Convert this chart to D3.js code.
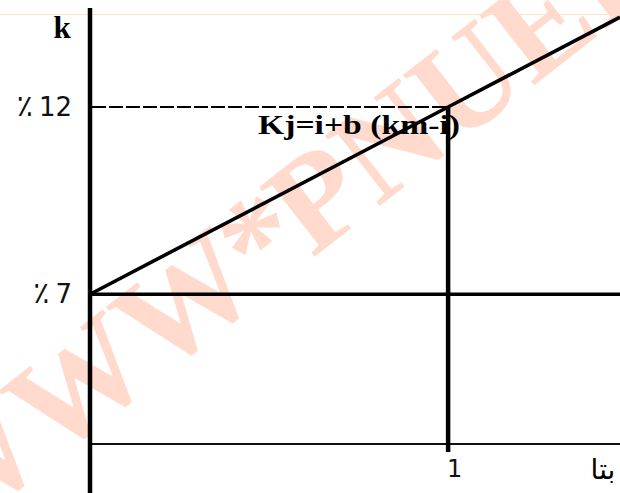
<!DOCTYPE html>
<html>
<head>
<meta charset="utf-8">
<script src="https://cdn.jsdelivr.net/npm/d3@7"></script>
<style>
  html, body { margin: 0; padding: 0; background: #fff; }
  svg { display: block; }
</style>
</head>
<body>
<div id="chart"></div>
<script>
// data
const kTicks = [7, 12];          // required return ticks (percent)
const betaTicks = [1];           // beta ticks
const smlBeta = [0, 1, 1.48];    // points on the SML line
const smlK = [7, 12, 14.4];
const kFloor = 3;                // where the beta axis sits
const watermark = ["WWW", "*", "PNUEB"];

var width = 620, height = 493;

var svg = d3.select("#chart")
    .append("svg")
    .attr("width", width)
    .attr("height", height);

var x = d3.scaleLinear()
    .domain([0, 1.48])
    .range([90, 620]);

var y = d3.scaleLinear()
    .domain([kFloor, 12])
    .range([444, 107]);

// faint scan border at the top
svg.append("line")
    .attr("x1", 0).attr("x2", width)
    .attr("y1", 14.5).attr("y2", 14.5)
    .attr("stroke", "#fde3c6")
    .attr("stroke-width", 1);

// watermark under everything
var wm = svg.append("g")
    .attr("transform", "translate(290,276) rotate(-38)")
    .attr("fill", "#ffdacd")
    .style("font-family", "'Liberation Serif', serif")
    .style("font-weight", "bold")
    .style("font-size", "136px");
wm.append("text").attr("x", -30).attr("text-anchor", "end").text(watermark[0]);
wm.append("text").attr("x", 0).attr("text-anchor", "middle").text(watermark[1]);
wm.append("text").attr("x", 28).attr("text-anchor", "start").text(watermark[2]);

// beta axis (thin)
svg.append("line")
    .attr("x1", x(0)).attr("x2", width)
    .attr("y1", y(kFloor)).attr("y2", y(kFloor))
    .attr("stroke", "#111")
    .attr("stroke-width", 2);

// risk free line at 7%
svg.append("line")
    .attr("x1", x(0)).attr("x2", width)
    .attr("y1", y(kTicks[0])).attr("y2", y(kTicks[0]))
    .attr("stroke", "#000")
    .attr("stroke-width", 3.5);

// dashed guide at 12%
svg.append("line")
    .attr("x1", x(0) + 2).attr("x2", x(betaTicks[0]))
    .attr("y1", y(kTicks[1])).attr("y2", y(kTicks[1]))
    .attr("stroke", "#000")
    .attr("stroke-width", 2)
    .attr("stroke-dasharray", "14,3");

// vertical guide at beta = 1
svg.append("line")
    .attr("x1", x(betaTicks[0])).attr("x2", x(betaTicks[0]))
    .attr("y1", y(kTicks[1])).attr("y2", y(kFloor) + 8)
    .attr("stroke", "#000")
    .attr("stroke-width", 4.5);

// k axis
svg.append("line")
    .attr("x1", x(0)).attr("x2", x(0))
    .attr("y1", 8).attr("y2", height)
    .attr("stroke", "#000")
    .attr("stroke-width", 4.5);

// SML
var line = d3.line()
    .x(d => x(d[0]))
    .y(d => y(d[1]));
svg.append("path")
    .datum(d3.zip(smlBeta, smlK))
    .attr("d", line)
    .attr("fill", "none")
    .attr("stroke", "#000")
    .attr("stroke-width", 3.6);

// tick labels
var yAxis = svg.append("g")
    .attr("transform", `translate(${x(0)},0)`)
    .call(d3.axisLeft(y).tickValues(kTicks).tickSize(0).tickPadding(18));
yAxis.select(".domain").remove();
yAxis.selectAll("text")
    .style("font-family", "'DejaVu Sans', sans-serif")
    .style("font-size", "26px")
    .attr("fill", "#111")
    .each(function(d) {
        var t = d3.select(this).text("");
        t.append("tspan").style("font-size", "30px").text("\u066A");
        t.append("tspan").attr("dx", 6).text(d);
    });

var xAxis = svg.append("g")
    .attr("transform", `translate(0,${y(kFloor)})`)
    .call(d3.axisBottom(x).tickValues(betaTicks).tickSize(0).tickPadding(16)
        .tickFormat(d3.format("d")));
xAxis.select(".domain").remove();
xAxis.selectAll("text")
    .attr("dx", 6)
    .style("font-family", "'DejaVu Sans', sans-serif")
    .style("font-size", "24px")
    .attr("fill", "#111");

// axis titles
svg.append("text")
    .attr("x", 62).attr("y", 38)
    .attr("text-anchor", "middle")
    .style("font-family", "'Liberation Serif', serif")
    .style("font-weight", "bold")
    .style("font-size", "31px")
    .text("k");

svg.append("text")
    .attr("x", 603).attr("y", 479)
    .attr("text-anchor", "middle")
    .style("font-family", "'DejaVu Sans', sans-serif")
    .style("font-size", "28px")
    .text("بتا");

// SML equation
svg.append("text")
    .attr("x", 258).attr("y", 134)
    .attr("textLength", 202)
    .attr("lengthAdjust", "spacingAndGlyphs")
    .style("font-family", "'Liberation Serif', serif")
    .style("font-weight", "bold")
    .style("font-size", "27px")
    .text("Kj=i+b (km-i)");
</script>
</body>
</html>
